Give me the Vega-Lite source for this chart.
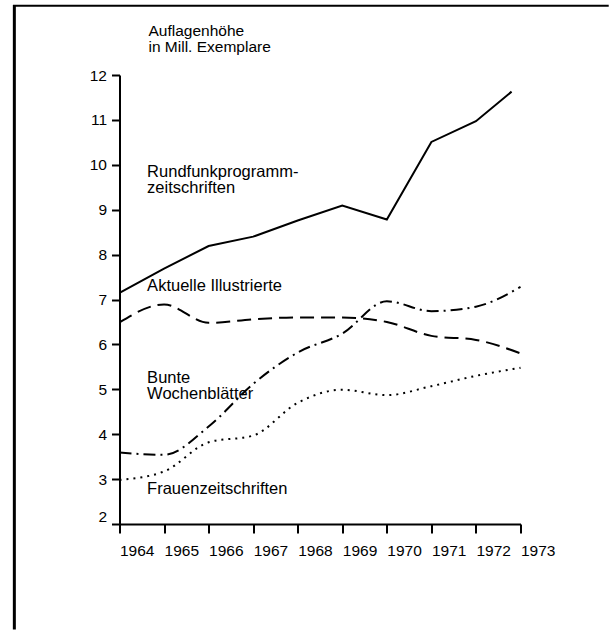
{
  "$schema": "https://vega.github.io/schema/vega-lite/v6.json",
  "width": 401,
  "height": 449,
  "autosize": {"type": "none"},
  "padding": {"left": 119.5, "top": 75, "right": 91.5, "bottom": 107},
  "background": "white",
  "config": {
    "view": {"stroke": null},
    "font": "Liberation Sans",
    "axis": {
      "grid": false,
      "domainColor": "black",
      "domainWidth": 2,
      "tickColor": "black",
      "tickWidth": 2,
      "labelColor": "black",
      "labelFont": "Liberation Sans",
      "labelFontSize": 15.5,
      "titleFont": "Liberation Sans",
      "titleColor": "black"
    },
    "text": {"font": "Liberation Sans"}
  },
  "datasets": {
    "auflage": [
      {"jahr": 1964, "wert": 7.15, "reihe": "Rundfunkprogrammzeitschriften"},
      {"jahr": 1965, "wert": 7.69, "reihe": "Rundfunkprogrammzeitschriften"},
      {"jahr": 1966, "wert": 8.19, "reihe": "Rundfunkprogrammzeitschriften"},
      {"jahr": 1967, "wert": 8.4, "reihe": "Rundfunkprogrammzeitschriften"},
      {"jahr": 1968, "wert": 8.76, "reihe": "Rundfunkprogrammzeitschriften"},
      {"jahr": 1969, "wert": 9.09, "reihe": "Rundfunkprogrammzeitschriften"},
      {"jahr": 1970, "wert": 8.78, "reihe": "Rundfunkprogrammzeitschriften"},
      {"jahr": 1971, "wert": 10.51, "reihe": "Rundfunkprogrammzeitschriften"},
      {"jahr": 1972, "wert": 10.97, "reihe": "Rundfunkprogrammzeitschriften"},
      {"jahr": 1972.8, "wert": 11.63, "reihe": "Rundfunkprogrammzeitschriften"},
      {"jahr": 1964, "wert": 6.49, "reihe": "Aktuelle Illustrierte"},
      {"jahr": 1965, "wert": 6.89, "reihe": "Aktuelle Illustrierte"},
      {"jahr": 1966, "wert": 6.48, "reihe": "Aktuelle Illustrierte"},
      {"jahr": 1967, "wert": 6.56, "reihe": "Aktuelle Illustrierte"},
      {"jahr": 1968, "wert": 6.6, "reihe": "Aktuelle Illustrierte"},
      {"jahr": 1969, "wert": 6.6, "reihe": "Aktuelle Illustrierte"},
      {"jahr": 1970, "wert": 6.5, "reihe": "Aktuelle Illustrierte"},
      {"jahr": 1971, "wert": 6.19, "reihe": "Aktuelle Illustrierte"},
      {"jahr": 1972, "wert": 6.1, "reihe": "Aktuelle Illustrierte"},
      {"jahr": 1973, "wert": 5.8, "reihe": "Aktuelle Illustrierte"},
      {"jahr": 1964, "wert": 3.59, "reihe": "Bunte Wochenblätter"},
      {"jahr": 1965, "wert": 3.54, "reihe": "Bunte Wochenblätter"},
      {"jahr": 1966, "wert": 4.17, "reihe": "Bunte Wochenblätter"},
      {"jahr": 1967, "wert": 5.12, "reihe": "Bunte Wochenblätter"},
      {"jahr": 1968, "wert": 5.82, "reihe": "Bunte Wochenblätter"},
      {"jahr": 1969, "wert": 6.24, "reihe": "Bunte Wochenblätter"},
      {"jahr": 1970, "wert": 6.96, "reihe": "Bunte Wochenblätter"},
      {"jahr": 1971, "wert": 6.74, "reihe": "Bunte Wochenblätter"},
      {"jahr": 1972, "wert": 6.84, "reihe": "Bunte Wochenblätter"},
      {"jahr": 1973, "wert": 7.28, "reihe": "Bunte Wochenblätter"},
      {"jahr": 1964, "wert": 2.98, "reihe": "Frauenzeitschriften"},
      {"jahr": 1965, "wert": 3.17, "reihe": "Frauenzeitschriften"},
      {"jahr": 1966, "wert": 3.82, "reihe": "Frauenzeitschriften"},
      {"jahr": 1967, "wert": 3.97, "reihe": "Frauenzeitschriften"},
      {"jahr": 1968, "wert": 4.7, "reihe": "Frauenzeitschriften"},
      {"jahr": 1969, "wert": 4.99, "reihe": "Frauenzeitschriften"},
      {"jahr": 1970, "wert": 4.87, "reihe": "Frauenzeitschriften"},
      {"jahr": 1971, "wert": 5.07, "reihe": "Frauenzeitschriften"},
      {"jahr": 1972, "wert": 5.3, "reihe": "Frauenzeitschriften"},
      {"jahr": 1973, "wert": 5.48, "reihe": "Frauenzeitschriften"}
    ],
    "beschriftung": [
      {"text": "Rundfunkprogramm-", "jahr": 1964.62, "wert": 9.735},
      {"text": "zeitschriften", "jahr": 1964.62, "wert": 9.365},
      {"text": "Aktuelle Illustrierte", "jahr": 1964.62, "wert": 7.19},
      {"text": "Bunte", "jahr": 1964.62, "wert": 5.147},
      {"text": "Wochenblätter", "jahr": 1964.62, "wert": 4.777},
      {"text": "Frauenzeitschriften", "jahr": 1964.62, "wert": 2.66}
    ]
  },
  "layer": [
    {
      "data": {"name": "auflage"},
      "transform": [{"filter": "datum.reihe === 'Rundfunkprogrammzeitschriften'"}],
      "mark": {"type": "line", "color": "black", "strokeWidth": 2},
      "encoding": {
        "x": {
          "field": "jahr",
          "type": "quantitative",
          "scale": {"domain": [1964, 1973], "nice": false, "zero": false},
          "axis": {
            "title": null,
            "values": [1964, 1965, 1966, 1967, 1968, 1969, 1970, 1971, 1972, 1973],
            "format": "d",
            "tickSize": 9,
            "labelPadding": 10,
            "labelAlign": "left",
            "labelBaseline": "top",
            "labelFontSize": 15.5,
            "labelFlush": false,
            "labelOverlap": false
          }
        },
        "y": {
          "field": "wert",
          "type": "quantitative",
          "scale": {"domain": [2, 12], "nice": false, "zero": false},
          "axis": {
            "title": ["Auflagenhöhe", "in Mill. Exemplare"],
            "titleAngle": 0,
            "titleAlign": "left",
            "titleBaseline": "alphabetic",
            "titleX": 28.5,
            "titleY": -40,
            "titleFontSize": 15.5,
            "titleFontWeight": "normal",
            "titleLineHeight": 16.5,
            "values": [2, 3, 4, 5, 6, 7, 8, 9, 10, 11, 12],
            "tickSize": 8,
            "labelPadding": 5,
            "labelFontSize": 15.5,
            "labelFlush": false,
            "labelOverlap": false,
            "labelBaseline": {"condition": {"test": "datum.value === 2", "value": "bottom"}, "value": "middle"}
          }
        }
      }
    },
    {
      "data": {"name": "auflage"},
      "transform": [{"filter": "datum.reihe !== 'Rundfunkprogrammzeitschriften'"}],
      "mark": {"type": "line", "color": "black", "strokeWidth": 2, "interpolate": "monotone"},
      "encoding": {
        "x": {"field": "jahr", "type": "quantitative"},
        "y": {"field": "wert", "type": "quantitative"},
        "strokeDash": {
          "field": "reihe",
          "type": "nominal",
          "scale": {
            "domain": ["Aktuelle Illustrierte", "Bunte Wochenblätter", "Frauenzeitschriften"],
            "range": [[14, 7], [12, 5, 2, 5], [2, 5]]
          },
          "legend": null
        }
      }
    },
    {
      "data": {"name": "beschriftung"},
      "mark": {"type": "text", "align": "left", "baseline": "alphabetic", "fontSize": 16.5, "color": "black", "font": "Liberation Sans"},
      "encoding": {
        "x": {"field": "jahr", "type": "quantitative"},
        "y": {"field": "wert", "type": "quantitative"},
        "text": {"field": "text"}
      }
    },
    {
      "data": {"values": [{}]},
      "mark": {"type": "rule", "color": "black", "strokeWidth": 3, "strokeCap": "butt"},
      "encoding": {
        "x": {"datum": 1961.64, "type": "quantitative"},
        "y": {"datum": -0.35, "type": "quantitative"},
        "y2": {"datum": 13.56}
      }
    },
    {
      "data": {"values": [{}]},
      "mark": {"type": "rule", "color": "black", "strokeWidth": 2, "strokeCap": "butt"},
      "encoding": {
        "x": {"datum": 1961.61, "type": "quantitative"},
        "x2": {"datum": 1974.98},
        "y": {"datum": 13.54, "type": "quantitative"}
      }
    }
  ]
}
